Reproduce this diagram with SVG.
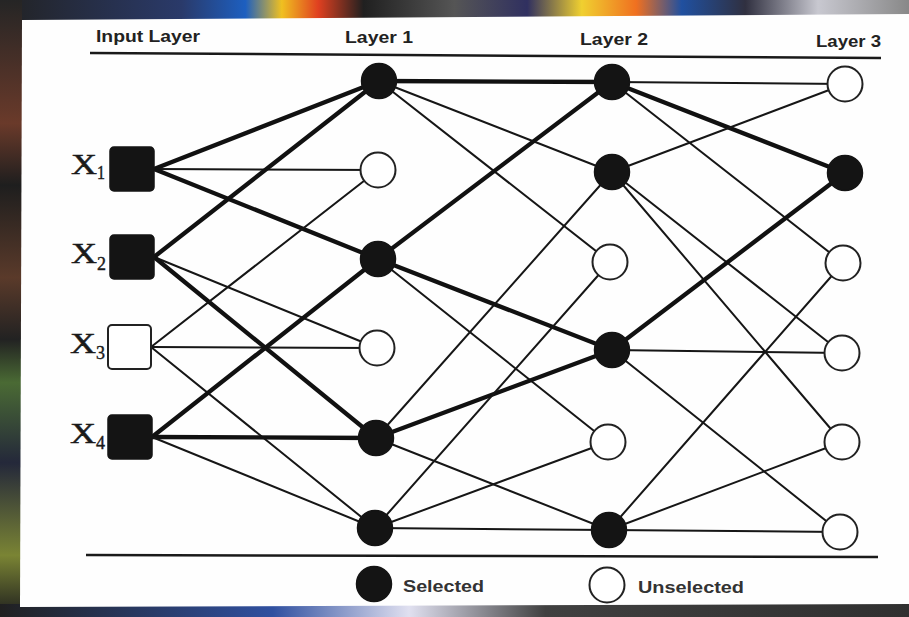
<svg xmlns="http://www.w3.org/2000/svg" width="909" height="617" viewBox="0 0 909 617">
<defs>
<linearGradient id="topband" x1="0" y1="0" x2="1" y2="0">
<stop offset="0" stop-color="#222"/>
<stop offset="0.2" stop-color="#2a3a6a"/>
<stop offset="0.27" stop-color="#1d5fc0"/>
<stop offset="0.31" stop-color="#f0c020"/>
<stop offset="0.35" stop-color="#e04020"/>
<stop offset="0.4" stop-color="#202020"/>
<stop offset="0.5" stop-color="#555"/>
<stop offset="0.58" stop-color="#303060"/>
<stop offset="0.64" stop-color="#f0d030"/>
<stop offset="0.7" stop-color="#f07020"/>
<stop offset="0.75" stop-color="#2050a0"/>
<stop offset="0.82" stop-color="#303040"/>
<stop offset="0.9" stop-color="#c8c8d0"/>
<stop offset="1" stop-color="#888"/>
</linearGradient>
<linearGradient id="leftband" x1="0" y1="0" x2="0" y2="1">
<stop offset="0" stop-color="#252525"/>
<stop offset="0.2" stop-color="#6a3a2a"/>
<stop offset="0.3" stop-color="#1e1e1e"/>
<stop offset="0.45" stop-color="#5a3a2a"/>
<stop offset="0.55" stop-color="#222"/>
<stop offset="0.62" stop-color="#4a6a34"/>
<stop offset="0.75" stop-color="#24283a"/>
<stop offset="0.9" stop-color="#7a8434"/>
<stop offset="1" stop-color="#1e1e1e"/>
</linearGradient>
<linearGradient id="botband" x1="0" y1="0" x2="1" y2="0">
<stop offset="0" stop-color="#202020"/>
<stop offset="0.3" stop-color="#3050a0"/>
<stop offset="0.45" stop-color="#e0e0f0"/>
<stop offset="0.6" stop-color="#404040"/>
<stop offset="1" stop-color="#303030"/>
</linearGradient>
</defs>
<style>
.thin{stroke:#161616;stroke-width:2;fill:none;stroke-linecap:round}
.thick{stroke:#111;stroke-width:4.3;fill:none;stroke-linecap:round}
.sel{fill:#141414;stroke:#141414;stroke-width:1.5}
.uns{fill:#fff;stroke:#222;stroke-width:2}
.hdr{font-family:"Liberation Sans",Arial,sans-serif;font-weight:bold;font-size:16px;fill:#222}
.xl{font-family:"Liberation Serif","Times New Roman",serif;font-size:29px;fill:#1a1a1a;stroke:#1a1a1a;stroke-width:0.5}
.xs{font-family:"Liberation Serif","Times New Roman",serif;font-size:18px;fill:#1a1a1a;stroke:#1a1a1a;stroke-width:0.4}
.leg{font-family:"Liberation Sans",Arial,sans-serif;font-weight:bold;font-size:16px;fill:#333}
.rule{stroke:#1a1a1a;stroke-width:2.5}
</style>
<rect x="0" y="0" width="909" height="617" fill="#262626"/>
<rect x="0" y="0" width="909" height="20" fill="url(#topband)"/>
<rect x="0" y="0" width="22" height="617" fill="url(#leftband)"/>
<rect x="0" y="604" width="909" height="13" fill="url(#botband)"/>
<polygon points="22,20 909,14 909,604 20,607" fill="#fefefe"/>

<g id="header">
<text class="hdr" x="96" y="42" textLength="104" lengthAdjust="spacingAndGlyphs">Input Layer</text>
<text class="hdr" x="345" y="43" textLength="68" lengthAdjust="spacingAndGlyphs">Layer 1</text>
<text class="hdr" x="580" y="45" textLength="68" lengthAdjust="spacingAndGlyphs">Layer 2</text>
<text class="hdr" x="816" y="47" font-size="15" textLength="65" lengthAdjust="spacingAndGlyphs">Layer 3</text>
<line class="rule" x1="90" y1="53" x2="881" y2="58"/>
<line class="rule" x1="86" y1="555" x2="878" y2="557"/>
</g>

<g id="connectors">
<line class="thick" x1="154" y1="169" x2="379" y2="81"/>
<line class="thin" x1="154" y1="169" x2="378" y2="170"/>
<line class="thick" x1="154" y1="169" x2="378" y2="259"/>
<line class="thick" x1="154" y1="257" x2="379" y2="81"/>
<line class="thin" x1="154" y1="257" x2="377" y2="348"/>
<line class="thick" x1="154" y1="257" x2="376" y2="438"/>
<line class="thin" x1="151" y1="347" x2="378" y2="170"/>
<line class="thin" x1="151" y1="347" x2="377" y2="348"/>
<line class="thin" x1="151" y1="347" x2="375" y2="528"/>
<line class="thick" x1="152" y1="437" x2="378" y2="259"/>
<line class="thick" x1="152" y1="437" x2="376" y2="438"/>
<line class="thin" x1="152" y1="437" x2="375" y2="528"/>
<line class="thick" x1="379" y1="81" x2="612" y2="82"/>
<line class="thin" x1="379" y1="81" x2="612" y2="172"/>
<line class="thin" x1="379" y1="81" x2="610" y2="262"/>
<line class="thick" x1="378" y1="259" x2="612" y2="82"/>
<line class="thick" x1="378" y1="259" x2="612" y2="350"/>
<line class="thin" x1="378" y1="259" x2="608" y2="442"/>
<line class="thin" x1="376" y1="438" x2="612" y2="172"/>
<line class="thick" x1="376" y1="438" x2="612" y2="350"/>
<line class="thin" x1="376" y1="438" x2="609" y2="530"/>
<line class="thin" x1="375" y1="528" x2="610" y2="262"/>
<line class="thin" x1="375" y1="528" x2="608" y2="442"/>
<line class="thin" x1="375" y1="528" x2="609" y2="530" stroke-width="2.6"/>
<line class="thin" x1="612" y1="82" x2="845" y2="84" stroke-width="2.6"/>
<line class="thick" x1="612" y1="82" x2="845" y2="173"/>
<line class="thin" x1="612" y1="82" x2="843" y2="263"/>
<line class="thin" x1="612" y1="172" x2="845" y2="84"/>
<line class="thin" x1="612" y1="172" x2="842" y2="353"/>
<line class="thin" x1="612" y1="172" x2="842" y2="442"/>
<line class="thick" x1="612" y1="350" x2="845" y2="173"/>
<line class="thin" x1="612" y1="350" x2="842" y2="353" stroke-width="2.6"/>
<line class="thin" x1="612" y1="350" x2="840" y2="532"/>
<line class="thin" x1="609" y1="530" x2="843" y2="263"/>
<line class="thin" x1="609" y1="530" x2="842" y2="442"/>
<line class="thin" x1="609" y1="530" x2="840" y2="532" stroke-width="2.6"/>
</g>

<g id="X1"><rect class="sel" x="110" y="147" width="44" height="44" rx="4"/><text class="xl" x="71" y="174" textLength="26" lengthAdjust="spacingAndGlyphs">X</text><text class="xs" x="97" y="179" textLength="8" lengthAdjust="spacingAndGlyphs">1</text></g>
<g id="X2"><rect class="sel" x="110" y="235" width="44" height="44" rx="4"/><text class="xl" x="71" y="263" textLength="26" lengthAdjust="spacingAndGlyphs">X</text><text class="xs" x="97" y="270" textLength="9" lengthAdjust="spacingAndGlyphs">2</text></g>
<g id="X3"><rect class="uns" x="108" y="325" width="43" height="44" rx="4"/><text class="xl" x="70" y="353" textLength="26" lengthAdjust="spacingAndGlyphs">X</text><text class="xs" x="96" y="359" textLength="9" lengthAdjust="spacingAndGlyphs">3</text></g>
<g id="X4"><rect class="sel" x="108" y="415" width="44" height="44" rx="4"/><text class="xl" x="70" y="443" textLength="26" lengthAdjust="spacingAndGlyphs">X</text><text class="xs" x="96" y="449" textLength="9" lengthAdjust="spacingAndGlyphs">4</text></g>

<g id="L1a"><circle class="sel" cx="379" cy="81" r="17.5"/></g>
<g id="L1b"><circle class="uns" cx="378" cy="170" r="17.5"/></g>
<g id="L1c"><circle class="sel" cx="378" cy="259" r="17.5"/></g>
<g id="L1d"><circle class="uns" cx="377" cy="348" r="17.5"/></g>
<g id="L1e"><circle class="sel" cx="376" cy="438" r="17.5"/></g>
<g id="L1f"><circle class="sel" cx="375" cy="528" r="17.5"/></g>

<g id="L2a"><circle class="sel" cx="612" cy="82" r="17.5"/></g>
<g id="L2b"><circle class="sel" cx="612" cy="172" r="17.5"/></g>
<g id="L2c"><circle class="uns" cx="610" cy="262" r="17.5"/></g>
<g id="L2d"><circle class="sel" cx="612" cy="350" r="17.5"/></g>
<g id="L2e"><circle class="uns" cx="608" cy="442" r="17.5"/></g>
<g id="L2f"><circle class="sel" cx="609" cy="530" r="17.5"/></g>

<g id="L3a"><circle class="uns" cx="845" cy="84" r="17.5"/></g>
<g id="L3b"><circle class="sel" cx="845" cy="173" r="17.5"/></g>
<g id="L3c"><circle class="uns" cx="843" cy="263" r="17.5"/></g>
<g id="L3d"><circle class="uns" cx="842" cy="353" r="17.5"/></g>
<g id="L3e"><circle class="uns" cx="842" cy="442" r="17.5"/></g>
<g id="L3f"><circle class="uns" cx="840" cy="532" r="17.5"/></g>

<g id="legend">
<circle class="sel" cx="374" cy="584" r="17.5"/>
<text class="leg" x="403" y="592" textLength="81" lengthAdjust="spacingAndGlyphs">Selected</text>
<circle class="uns" cx="607" cy="585" r="17.5"/>
<text class="leg" x="638" y="593" textLength="106" lengthAdjust="spacingAndGlyphs">Unselected</text>
</g>
</svg>
